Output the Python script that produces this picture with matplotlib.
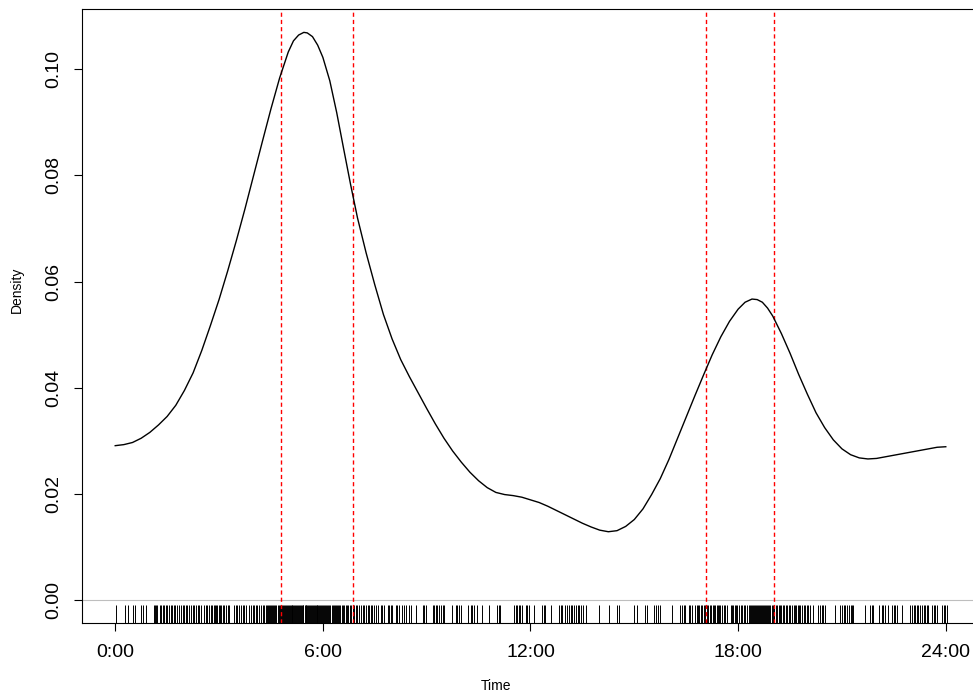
import matplotlib
matplotlib.use("Agg")
import matplotlib.pyplot as plt

plt.rcParams['font.family'] = ['Liberation Sans', 'DejaVu Sans']

# density curve (hour of day, density)
curve_h = [0.00, 0.25, 0.50, 0.75, 1.00, 1.25, 1.50, 1.75, 2.00, 2.25, 2.50, 2.75, 3.00,
           3.25, 3.50, 3.75, 4.00, 4.25, 4.50, 4.75, 5.00, 5.15, 5.30, 5.45, 5.55, 5.70,
           5.85, 6.00, 6.20, 6.40, 6.60, 6.80, 7.00, 7.25, 7.50, 7.75, 8.00, 8.25, 8.50,
           8.75, 9.00, 9.25, 9.50, 9.75, 10.00, 10.25, 10.50, 10.75, 11.00, 11.25, 11.50,
           11.75, 12.00, 12.25, 12.50, 12.75, 13.00, 13.25, 13.50, 13.75, 14.00, 14.25,
           14.50, 14.75, 15.00, 15.25, 15.50, 15.75, 16.00, 16.25, 16.50, 16.75, 17.00,
           17.25, 17.50, 17.75, 18.00, 18.20, 18.40, 18.55, 18.70, 18.85, 19.00, 19.25,
           19.50, 19.75, 20.00, 20.25, 20.50, 20.75, 21.00, 21.25, 21.50, 21.75, 22.00,
           22.25, 22.50, 22.75, 23.00, 23.25, 23.50, 23.75, 24.00]
curve_d = [0.0291, 0.0293, 0.0297, 0.0305, 0.0316, 0.0330, 0.0346, 0.0367, 0.0395, 0.0428,
           0.0470, 0.0517, 0.0566, 0.0620, 0.0677, 0.0737, 0.0800, 0.0863, 0.0925, 0.0983,
           0.1032, 0.1053, 0.1064, 0.1069, 0.1068, 0.1061, 0.1045, 0.1022, 0.0978, 0.0918,
           0.0850, 0.0783, 0.0720, 0.0654, 0.0594, 0.0538, 0.0492, 0.0453, 0.0421, 0.0391,
           0.0361, 0.0332, 0.0305, 0.0281, 0.0260, 0.0241, 0.0225, 0.0212, 0.0203, 0.0199,
           0.0197, 0.0194, 0.0189, 0.0184, 0.0177, 0.0169, 0.0161, 0.0153, 0.0145, 0.0138,
           0.0132, 0.0129, 0.0131, 0.0139, 0.0152, 0.0172, 0.0199, 0.0229, 0.0265, 0.0305,
           0.0345, 0.0385, 0.0424, 0.0462, 0.0496, 0.0525, 0.0548, 0.0561, 0.0567, 0.0566,
           0.0561, 0.0550, 0.0535, 0.0502, 0.0465, 0.0425, 0.0388, 0.0353, 0.0325, 0.0302,
           0.0285, 0.0274, 0.0268, 0.0266, 0.0267, 0.0270, 0.0273, 0.0276, 0.0279, 0.0282,
           0.0285, 0.0288, 0.0289]

# observed times (hours) shown in the rug
rug_h = [0.02, 0.29, 0.36, 0.52, 0.58, 0.74, 0.79, 0.89,
         1.11, 1.15, 1.19, 1.22, 1.28, 1.33, 1.38, 1.42, 1.47, 1.51, 1.54, 1.61, 1.65, 1.70,
         1.74, 1.79, 1.85, 1.90, 1.95, 1.99,
         2.04, 2.08, 2.14, 2.19, 2.24, 2.28, 2.33, 2.38, 2.43, 2.48, 2.57, 2.62, 2.66, 2.72,
         2.76, 2.80, 2.84, 2.88, 2.92, 2.95, 2.99,
         3.03, 3.07, 3.11, 3.15, 3.20, 3.25, 3.30, 3.44, 3.48, 3.53, 3.58, 3.63, 3.68, 3.73,
         3.78, 3.88, 3.92, 3.97, 4.01, 4.06, 4.11, 4.16, 4.21, 4.26, 4.31, 4.36,
         4.39, 4.42, 4.45, 4.48, 4.51, 4.54, 4.57, 4.60, 4.63, 4.66, 4.69, 4.72, 4.75, 4.78,
         4.81, 4.84, 4.87, 4.90, 4.93, 4.96, 4.99,
         5.02, 5.04, 5.07, 5.10, 5.12, 5.15, 5.18, 5.20, 5.23, 5.26, 5.28, 5.31, 5.34, 5.36,
         5.39, 5.42, 5.44, 5.47, 5.50, 5.52, 5.55, 5.58, 5.60, 5.63, 5.66, 5.68, 5.71, 5.74,
         5.76, 5.79, 5.82, 5.84, 5.87, 5.90, 5.92, 5.95, 5.98,
         6.01, 6.04, 6.07, 6.10, 6.13, 6.16, 6.19, 6.22, 6.25, 6.28, 6.31, 6.34, 6.37, 6.40,
         6.43, 6.46, 6.50, 6.54, 6.58, 6.62, 6.66, 6.70, 6.74, 6.78, 6.82, 6.86, 6.90, 6.95,
         7.00, 7.05, 7.10, 7.15, 7.20, 7.25, 7.29,
         7.34, 7.38, 7.43, 7.48, 7.53, 7.58, 7.67, 7.72, 7.77, 7.87, 7.92, 7.97, 8.01, 8.10,
         8.15, 8.20, 8.30, 8.35, 8.40, 8.49, 8.54, 8.68, 8.88, 8.93, 8.97, 9.17, 9.22, 9.26,
         9.31, 9.36, 9.41, 9.46, 9.50,
         9.74, 9.85, 9.89, 9.93, 9.98, 10.20, 10.27, 10.31, 10.38, 10.46, 10.60, 10.80,
         11.04, 11.09, 11.13, 11.52, 11.57, 11.62, 11.66, 11.71, 11.76, 11.86, 11.91, 11.95,
         12.10, 12.34, 12.39, 12.43, 12.58, 12.82, 12.87, 12.92, 13.01, 13.06, 13.11, 13.16,
         13.21, 13.26, 13.31, 13.36, 13.40, 13.45, 13.52, 13.59, 13.98, 14.27, 14.50, 14.55,
         14.98, 15.07, 15.32, 15.36, 15.56, 15.62, 15.69, 15.75, 16.09, 16.33, 16.38, 16.43,
         16.47, 16.57, 16.62, 16.67, 16.76, 16.80, 16.84, 16.88, 16.92, 16.96, 17.00, 17.05,
         17.10, 17.14, 17.18, 17.22, 17.26, 17.30, 17.34, 17.38, 17.42, 17.46, 17.49, 17.53,
         17.58, 17.63, 17.68, 17.78, 17.82, 17.86, 17.90, 17.94, 17.98, 18.02, 18.07, 18.11,
         18.16, 18.21, 18.26, 18.30, 18.33, 18.36, 18.39, 18.42, 18.45, 18.48, 18.51, 18.54,
         18.57, 18.60, 18.63, 18.66, 18.69, 18.72, 18.75, 18.78, 18.81, 18.84, 18.87, 18.90,
         18.93, 18.97, 19.01, 19.05, 19.09, 19.13, 19.17, 19.21, 19.25, 19.29,
         19.33, 19.37, 19.41, 19.46, 19.50, 19.55, 19.60, 19.64, 19.68, 19.72, 19.76, 19.80,
         19.85, 19.90, 19.94, 19.98, 20.03, 20.08, 20.17, 20.32, 20.36, 20.41, 20.46, 20.51,
         20.80, 20.95, 21.00, 21.05, 21.10, 21.15, 21.20, 21.25, 21.29, 21.33, 21.67, 21.81,
         21.86, 21.91, 22.06, 22.15, 22.20, 22.25, 22.34, 22.44, 22.49, 22.54, 22.58, 22.73,
         22.97, 23.02, 23.07, 23.11, 23.16, 23.21, 23.26, 23.31, 23.36, 23.41, 23.46, 23.50,
         23.60, 23.65, 23.70, 23.74, 23.89, 23.94, 23.99, 24.03]

# window boundaries (red dashed lines)
windows = [4.79, 6.86, 17.08, 19.04]

x_ticks = [0, 6, 12, 18, 24]
x_labels = ['0:00', '6:00', '12:00', '18:00', '24:00']
y_ticks = [0.00, 0.02, 0.04, 0.06, 0.08, 0.10]

W, H = 973, 696
fig = plt.figure(figsize=(W / 100, H / 100), dpi=100)
# plot box runs past the right edge, as in the picture
ax = fig.add_axes([82 / W, 73 / H, 897 / W, 614 / H])

ax.axhline(0, color='#bebebe', lw=0.8, zorder=1)
ax.vlines(rug_h, 0, 0.03, transform=ax.get_xaxis_transform(), color='black', lw=0.7)
for w in windows:
    ax.axvline(w, color='red', lw=1.0, dashes=(3, 2.2))
ax.plot(curve_h, curve_d, color='black', lw=1.0)

ax.set_xlim(-0.96, 24.96)
ax.set_ylim(-0.00428, 0.1113)
ax.set_xticks(x_ticks)
ax.set_xticklabels(x_labels)
ax.set_yticks(y_ticks)
ax.set_yticklabels(['%.2f' % v for v in y_ticks], rotation=90, va='center')
ax.tick_params(direction='out', length=6, width=0.8, labelsize=14, pad=9)
ax.tick_params(axis='y', pad=8)
for s in ax.spines.values():
    s.set_linewidth(0.8)

fig.text(496 / W, 1 - 686 / H, 'Time', ha='center', va='center', fontsize=10)
fig.text(17 / W, 1 - 290 / H, 'Density', ha='center', va='center', rotation=90, fontsize=10)

fig.savefig('out.png', dpi=100)
